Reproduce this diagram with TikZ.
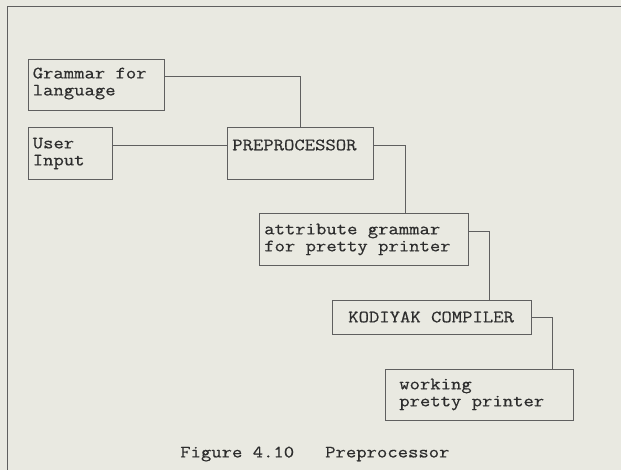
\documentclass[tikz,border=0pt]{standalone}
\usepackage{fontspec}
\newfontfamily\courfont{Latin Modern Mono}[FakeStretch=1.16,FakeBold=0.5]
\definecolor{paper}{RGB}{233,233,225}
\definecolor{ink}{RGB}{45,45,45}
\definecolor{rule}{RGB}{95,95,95}
\begin{document}
\begin{tikzpicture}[x=0.75pt,y=-0.75pt,
  box/.style={draw=rule,line width=0.6pt,rectangle,inner sep=0pt},
  txt/.style={text=ink,font=\courfont\fontsize{13}{12.75}\selectfont,align=left,inner sep=0pt,anchor=west},
  conn/.style={draw=rule,line width=0.6pt}]
\useasboundingbox (0,0) rectangle (621,470);
\fill[paper] (0,0) rectangle (621,470);
\draw[conn] (7,470) -- (7,6) -- (621,6);
% boxes
\node[box,minimum width=102pt,minimum height=38.25pt] (gram) at (96,84.5) {};
\node[box,minimum width=63pt,minimum height=39pt] (user) at (70,153) {};
\node[box,minimum width=109.5pt,minimum height=39pt] (prep) at (300,153) {};
\node[box,minimum width=156.75pt,minimum height=39pt] (attr) at (363.5,239) {};
\node[box,minimum width=149.25pt,minimum height=25.5pt] (kod) at (431.5,317) {};
\node[box,minimum width=141pt,minimum height=38.25pt] (work) at (479,394.5) {};
% texts
\node[txt] (gramT) at (32.5,83.5) {Grammar for\\language};
\node[txt] (userT) at (32.5,153.5) {User\\Input};
\node[txt] (prepT) at (232,145) {PREPROCESSOR};
\node[txt] (attrT) at (264,239.5) {attribute grammar\\for pretty printer};
\node[txt] (kodT) at (348,317) {KODIYAK COMPILER};
\node[txt] (workT) at (399,394.5) {working\\pretty printer};
\node[txt] (cap) at (180,454) {Figure 4.10~~~Preprocessor};
% connectors
\draw[conn] ([yshift=6.4pt]gram.east) -| (prep.north);
\draw[conn] ([yshift=6pt]user.east) -- ([yshift=6pt]prep.west);
\draw[conn] ([yshift=6pt]prep.east) -| ([xshift=31.1pt]attr.north);
\draw[conn] ([yshift=6pt]attr.east) -| ([xshift=43.1pt]kod.north);
\draw[conn] (kod.east) -| ([xshift=54.75pt]work.north);
\end{tikzpicture}
\end{document}
